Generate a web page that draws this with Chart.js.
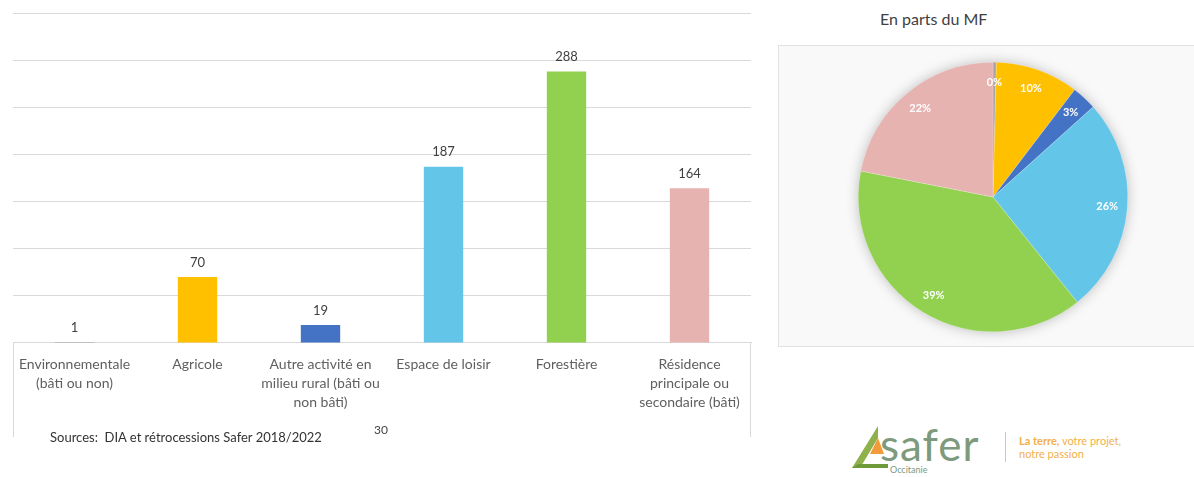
<!DOCTYPE html>
<html>
<head>
<meta charset="utf-8">
<script src="https://cdn.jsdelivr.net/npm/chart.js@4"></script>
<style>
  body { margin: 0; background: #fff; font-family: Lato, "Open Sans", sans-serif; }
  #page { position: relative; width: 1194px; height: 477px; overflow: hidden; }
  #barWrap { position: absolute; left: 0; top: 0; width: 762px; height: 437px; }
  #pieBox { position: absolute; left: 778px; top: 45px; width: 430px; height: 302px;
            background: #f9f9f9; border: 1px solid #e2e2e2; box-sizing: border-box; }
  #pieWrap { position: absolute; left: 778px; top: 45px; width: 416px; height: 300px; }
  #pieTitle { position: absolute; left: 880px; top: 9px; font-size: 16px; color: #404040; }
  #sources { position: absolute; left: 50px; top: 429px; font-size: 13px; color: #333; }
  #pageNum { position: absolute; left: 374px; top: 422px; font-size: 12px; color: #444; }
  #logo { position: absolute; left: 848px; top: 418px; width: 320px; height: 59px; }
  #logo .word { position: absolute; left: 32px; top: 0px; font-size: 44px; color: #7d9a7d; letter-spacing: 1px; }
  #logo .region { position: absolute; left: 42px; top: 46px; font-size: 9px; color: #7d9a7d; }
  #logo .bar { position: absolute; left: 157px; top: 14px; width: 1px; height: 30px; background: #d8c8a8; }
  #logo .motto { position: absolute; left: 171px; top: 16px; font-size: 11px; line-height: 13px; color: #f2b04a; }
</style>
</head>
<body>
<div id="page">
  <div id="barWrap"><canvas id="barChart"></canvas></div>
  <div id="pieTitle">En parts du MF</div>
  <div id="pieBox"></div>
  <div id="pieWrap"><canvas id="pieChart"></canvas></div>
  <div id="sources">Sources:&nbsp; DIA et rétrocessions Safer 2018/2022</div>
  <div id="pageNum">30</div>
  <div id="logo">
    <svg width="40" height="50" style="position:absolute;left:0;top:6px">
      <polygon points="30,2 4,44 12,44 30,14" fill="#8fb04a"/>
      <polygon points="30,14 22,30 36,30" fill="#f39a3a"/>
      <polygon points="4,44 40,44 40,40 10,40" fill="#6f9a3a"/>
    </svg>
    <div class="word">safer</div>
    <div class="region">Occitanie</div>
    <div class="bar"></div>
    <div class="motto"><b>La terre,</b> votre projet,<br>notre passion</div>
  </div>
</div>

<script>
// donnees du graphique en barres
var categories = [
  ['Environnementale', '(bâti ou non)'],
  ['Agricole'],
  ['Autre activité en', 'milieu rural (bâti ou', 'non bâti)'],
  ['Espace de loisir'],
  ['Forestière'],
  ['Résidence', 'principale ou', 'secondaire (bâti)']
];
var barValues = [1, 70, 19, 187, 288, 164];
var couleurs = ['#a5a5a5', '#ffc000', '#4472c4', '#63c5e8', '#92d050', '#e6b3b1'];

// parts du MF (en %)
var pieValues = [0.4, 10, 3, 26, 39, 22];

var myChart1;
var myChart2;

// etiquettes au-dessus des barres
var etiquettesBarres = {
  id: 'etiquettesBarres',
  afterDatasetsDraw(chart) {
    var ctx = chart.ctx;
    var meta = chart.getDatasetMeta(0);
    ctx.save();
    ctx.font = '13px Lato';
    ctx.fillStyle = '#404040';
    ctx.textAlign = 'center';
    ctx.textBaseline = 'bottom';
    meta.data.forEach(function (bar, i) {
      ctx.fillText(String(barValues[i]), bar.x, bar.y - 8);
    });
    // bords verticaux de la zone des categories
    var a = chart.chartArea;
    ctx.strokeStyle = '#d9d9d9';
    ctx.lineWidth = 1;
    ctx.beginPath();
    ctx.moveTo(a.left + 0.5, a.bottom);
    ctx.lineTo(a.left + 0.5, a.bottom + 95);
    ctx.moveTo(a.right - 0.5, a.bottom);
    ctx.lineTo(a.right - 0.5, a.bottom + 95);
    ctx.stroke();
    ctx.restore();
  }
};

// ombre sous le camembert + pourcentages
var ombrePie = {
  id: 'ombrePie',
  beforeDatasetsDraw(chart) {
    var arc = chart.getDatasetMeta(0).data[0];
    var ctx = chart.ctx;
    ctx.save();
    ctx.shadowColor = 'rgba(0,0,0,0.28)';
    ctx.shadowBlur = 14;
    ctx.fillStyle = '#ffffff';
    ctx.beginPath();
    ctx.arc(arc.x, arc.y, arc.outerRadius - 1, 0, Math.PI * 2);
    ctx.fill();
    ctx.restore();
  },
  afterDatasetsDraw(chart) {
    var ctx = chart.ctx;
    var total = pieValues.reduce(function (s, v) { return s + v; }, 0);
    ctx.save();
    ctx.font = 'bold 11px Lato';
    ctx.fillStyle = '#ffffff';
    ctx.textAlign = 'center';
    ctx.textBaseline = 'middle';
    chart.getDatasetMeta(0).data.forEach(function (arc, i) {
      var mid = (arc.startAngle + arc.endAngle) / 2;
      var r = arc.outerRadius * 0.85;
      var txt = Math.round(pieValues[i] / total * 100) + '%';
      ctx.fillText(txt, arc.x + Math.cos(mid) * r, arc.y + Math.sin(mid) * r);
    });
    ctx.restore();
  }
};

function graficoBarra() {
  var ctx = document.getElementById('barChart').getContext('2d');
  myChart1 = new Chart(ctx, {
    type: 'bar',
    data: {
      labels: categories,
      datasets: [{
        data: barValues,
        backgroundColor: couleurs,
        categoryPercentage: 1,
        barPercentage: 0.32
      }]
    },
    options: {
      responsive: true,
      maintainAspectRatio: false,
      animation: false,
      layout: { padding: { left: 13, right: 11, top: 13, bottom: 21 } },
      plugins: { legend: { display: false }, tooltip: { enabled: false } },
      scales: {
        x: {
          grid: { display: false },
          border: { color: '#d9d9d9' },
          ticks: {
            color: '#5f5f5f',
            font: { family: 'Lato', size: 14, lineHeight: 1.36 },
            padding: 4,
            maxRotation: 0,
            autoSkip: false
          }
        },
        y: {
          min: 0,
          max: 350,
          ticks: { display: false, stepSize: 50 },
          grid: { color: '#d9d9d9', drawTicks: false },
          border: { display: false }
        }
      }
    },
    plugins: [etiquettesBarres]
  });
}

function graficoPizza() {
  var ctx = document.getElementById('pieChart').getContext('2d');
  myChart2 = new Chart(ctx, {
    type: 'pie',
    data: {
      labels: categories.map(function (c) { return c.join(' '); }),
      datasets: [{
        data: pieValues,
        backgroundColor: couleurs,
        borderColor: 'rgba(255,255,255,0.4)',
        borderWidth: 0.5
      }]
    },
    options: {
      responsive: true,
      maintainAspectRatio: false,
      animation: false,
      layout: { padding: { left: 14, right: 0, top: 17, bottom: 13 } },
      plugins: { legend: { display: false }, tooltip: { enabled: false } }
    },
    plugins: [ombrePie]
  });
}

graficoBarra();
graficoPizza();
</script>
</body>
</html>
